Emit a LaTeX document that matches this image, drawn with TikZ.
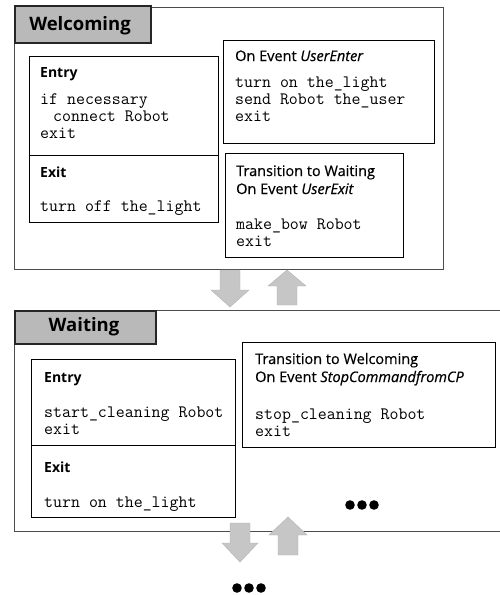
\documentclass[tikz,border=0pt]{standalone}
\usepackage{fontspec}
\newfontfamily\hfont[FakeBold=0.5]{Open Sans}
\newfontfamily\bfont{Open Sans Bold}
\begin{document}
\begin{tikzpicture}[x=1pt,y=-1pt,
  outerbox/.style={draw=black!70, line width=1pt, inner sep=0pt, anchor=north west},
  box/.style={draw=black, line width=1.4pt, fill=white, inner sep=0pt, anchor=north west},
  tabbox/.style={draw=black!85, line width=1.8pt, fill=gray!55, inner sep=0pt, anchor=north west},
  tabtxt/.style={anchor=center, inner sep=0pt, font=\bfont\fontsize{18.5}{18}\selectfont},
  head/.style={anchor=base west, inner sep=0pt, align=left, font=\hfont\fontsize{14.5}{18}\selectfont},
  bhead/.style={anchor=base west, inner sep=0pt, font=\bfont\fontsize{14}{18}\selectfont},
  code/.style={anchor=base west, inner sep=0pt, align=left, font=\ttfamily\fontsize{17.4}{17}\selectfont},
  fatarrow/.style={fill=gray!45, draw=gray!60, line width=0.4pt},
  dot/.style={fill=black}]
\useasboundingbox (0,0) rectangle (500,595);

% ---------------- Welcoming ----------------
\node[outerbox, minimum width=429pt, minimum height=262pt] (wout) at (14,7) {};
\node[tabbox, minimum width=136pt, minimum height=37pt] (wtab) at (14,5) {};
\node[tabtxt] (wtabt) at (80,26) {Welcoming};

\node[box, minimum width=189pt, minimum height=99pt] (wentry) at (29,56) {};
\node[box, minimum width=189pt, minimum height=67pt] (wexit) at (29,155) {};
\node[bhead] (wentryh) at (40,77) {Entry};
\node[code] (wentryc) at (40,138) {if necessary\\\hspace*{13pt}connect Robot\\exit};
\node[bhead] (wexith) at (40,177) {Exit};
\node[code] (wexitc) at (40,211) {turn off the\_light};

\node[box, minimum width=211pt, minimum height=103pt] (wenter) at (223,40) {};
\node[head] (wenterh) at (235,61) {On Event \textit{UserEnter}};
\node[code] (wenterc) at (235,121) {turn on the\_light\\send Robot the\_user\\exit};

\node[box, minimum width=178pt, minimum height=104pt] (wtrans) at (225,153) {};
\node[head] (wtransh) at (236,194) {Transition to Waiting\\On Event \textit{UserExit}};
\node[code] (wtransc) at (236,246) {make\_bow Robot\\exit};

% arrows between
\path[fatarrow] (220,270) -- (240,270) -- (240,290) -- (249,290) -- (230,307) -- (211,290) -- (220,290) -- cycle;
\path[fatarrow] (277,305) -- (297,305) -- (297,286) -- (306,286) -- (287,270) -- (268,286) -- (277,286) -- cycle;

% ---------------- Waiting ----------------
\draw[draw=black!70, line width=1pt] (500,310) -- (14,310) -- (14,531) -- (500,531);
\node[tabbox, minimum width=141pt, minimum height=33pt] (atab) at (14,310) {};
\node[tabtxt] (atabt) at (84,327) {Waiting};

\node[box, minimum width=204pt, minimum height=86pt] (aentry) at (31,359) {};
\node[box, minimum width=204pt, minimum height=72pt] (aexit) at (31,445) {};
\node[bhead] (aentryh) at (44,382) {Entry};
\node[code] (aentryc) at (44,434) {start\_cleaning Robot\\exit};
\node[bhead] (aexith) at (44,472) {Exit};
\node[code] (aexitc) at (44,507) {turn on the\_light};

\node[box, minimum width=253pt, minimum height=105pt] (atrans) at (242,342) {};
\node[head] (atransh) at (255,382) {Transition to Welcoming\\On Event \textit{StopCommandfromCP}};
\node[code] (atransc) at (255,436) {stop\_cleaning Robot\\exit};

\foreach \i in {0,1,2} {\fill[dot] (350+12*\i,505) circle (4.8pt);}

% arrows below
\path[fatarrow] (230,523) -- (250,523) -- (250,543) -- (258,543) -- (240,562) -- (222,543) -- (230,543) -- cycle;
\path[fatarrow] (278,555) -- (298,555) -- (298,535) -- (307,535) -- (288,517) -- (269,535) -- (278,535) -- cycle;

\foreach \i in {0,1,2} {\fill[dot] (237+12*\i,588) circle (4.8pt);}
\end{tikzpicture}
\end{document}
